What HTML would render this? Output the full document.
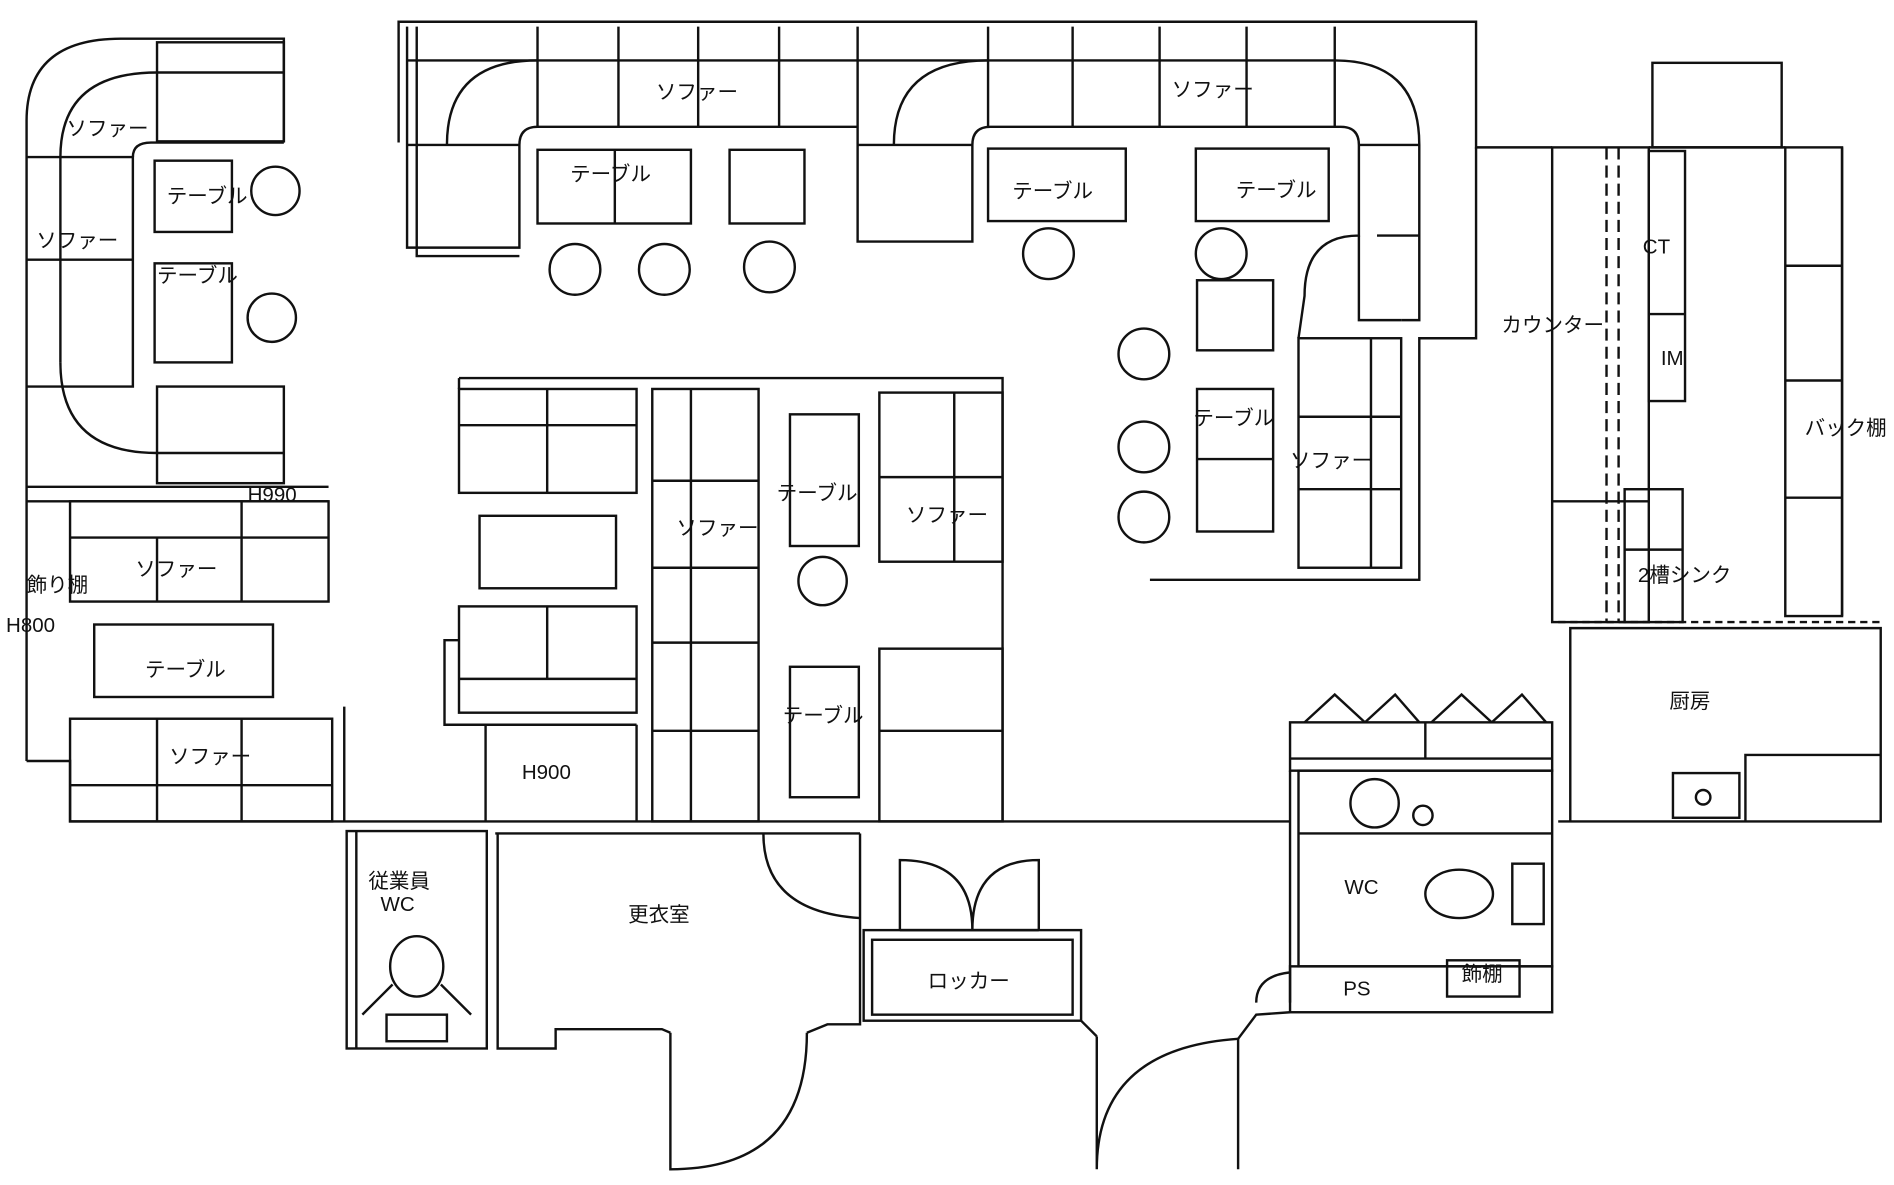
<!DOCTYPE html>
<html><head><meta charset="utf-8"><style>
html,body{margin:0;padding:0;background:#fff;}
svg{display:block}
text{font-family:"Liberation Sans","Noto Sans CJK JP",sans-serif;font-size:17px;fill:#111}
</style></head><body>
<svg width="1894" height="1185" viewBox="0 0 1568 981" xmlns="http://www.w3.org/2000/svg">
<rect width="1568" height="981" fill="#fff"/>
<g fill="none" stroke="#111" stroke-width="2">
<!-- outer walls -->
<path d="M22,630 L22,100 Q22,32 100,32 L235,32 L235,118"/>
<path d="M330,118 L330,18 L1222,18 L1222,122 L1285,122"/>
<path d="M1525,122 L1525,510"/>
<path d="M22,630 L58,630 L58,680 L1068,680"/>
<path d="M1290,680 L1557,680 L1557,520 L1300,520 L1300,680"/>
<!-- upper-left sofa -->
<rect x="130" y="35" width="105" height="82"/><line x1="130" y1="60" x2="235" y2="60"/>
<path d="M22,130 L110,130 L110,320 L22,320"/><line x1="22" y1="215" x2="110" y2="215"/><line x1="50" y1="130" x2="50" y2="300"/>
<path d="M50,300 Q50,375 130,375"/><path d="M110,130 Q110,118 125,118 L235,118"/>
<rect x="130" y="320" width="105" height="80"/><line x1="130" y1="375" x2="235" y2="375"/>
<path d="M50,130 Q50,60 130,60"/>
<rect x="128" y="133" width="64" height="59"/><rect x="128" y="218" width="64" height="82"/>
<circle cx="228" cy="158" r="20"/><circle cx="225" cy="263" r="20"/>
<line x1="22" y1="403" x2="272" y2="403"/><line x1="22" y1="415" x2="272" y2="415"/>
<rect x="58" y="415" width="214" height="83"/><line x1="130" y1="445" x2="130" y2="498"/><line x1="200" y1="415" x2="200" y2="498"/><line x1="58" y1="445" x2="272" y2="445"/>
<rect x="78" y="517" width="148" height="60"/>
<rect x="58" y="595" width="217" height="85"/><line x1="130" y1="595" x2="130" y2="680"/><line x1="200" y1="595" x2="200" y2="680"/><line x1="58" y1="650" x2="275" y2="650"/>
<line x1="285" y1="585" x2="285" y2="680"/>
<!-- top middle sofa -->
<path d="M337,22 L337,205 L430,205 L430,120 Q430,105 445,105 L710,105"/>
<path d="M345,22 L345,212 L430,212"/>
<line x1="445" y1="22" x2="445" y2="105"/><line x1="512" y1="22" x2="512" y2="105"/><line x1="578" y1="22" x2="578" y2="105"/><line x1="645" y1="22" x2="645" y2="105"/>
<line x1="337" y1="50" x2="710" y2="50"/><line x1="337" y1="120" x2="430" y2="120"/>
<path d="M370,120 Q370,50 445,50"/>
<rect x="445" y="124" width="127" height="61"/><line x1="509" y1="124" x2="509" y2="185"/>
<rect x="604" y="124" width="62" height="61"/>
<circle cx="476" cy="223" r="21"/><circle cx="550" cy="223" r="21"/><circle cx="637" cy="221" r="21"/>
<!-- top right sofa -->
<path d="M710,22 L710,200 L805,200 L805,120 Q805,105 820,105 L1110,105 Q1125,105 1125,120 L1125,195 Q1080,195 1080,245 L1075,280"/>
<line x1="818" y1="22" x2="818" y2="105"/><line x1="888" y1="22" x2="888" y2="105"/><line x1="960" y1="22" x2="960" y2="105"/><line x1="1032" y1="22" x2="1032" y2="105"/><line x1="1105" y1="22" x2="1105" y2="105"/>
<line x1="710" y1="50" x2="1105" y2="50"/><line x1="710" y1="120" x2="805" y2="120"/>
<path d="M740,120 Q740,50 818,50"/><path d="M1105,50 Q1175,50 1175,120 L1175,265 L1160,265"/>
<line x1="1125" y1="120" x2="1175" y2="120"/><line x1="1140" y1="195" x2="1175" y2="195"/>
<path d="M1125,195 L1125,265 L1160,265"/><path d="M1222,122 L1222,280 L1175,280 L1175,480 L952,480"/>
<rect x="1075" y="280" width="85" height="190"/><line x1="1135" y1="280" x2="1135" y2="470"/><line x1="1075" y1="345" x2="1160" y2="345"/><line x1="1075" y1="405" x2="1160" y2="405"/>
<rect x="818" y="123" width="114" height="60"/><rect x="990" y="123" width="110" height="60"/>
<circle cx="868" cy="210" r="21"/><circle cx="1011" cy="210" r="21"/>
<rect x="991" y="232" width="63" height="58"/>
<circle cx="947" cy="293" r="21"/><circle cx="947" cy="370" r="21"/><circle cx="947" cy="428" r="21"/>
<rect x="991" y="322" width="63" height="118"/><line x1="991" y1="380" x2="1054" y2="380"/>
<!-- center block -->
<path d="M380,313 L830,313 L830,680"/><line x1="380" y1="313" x2="380" y2="322"/>
<rect x="380" y="322" width="147" height="86"/><line x1="453" y1="322" x2="453" y2="408"/><line x1="380" y1="352" x2="527" y2="352"/>
<rect x="397" y="427" width="113" height="60"/>
<rect x="380" y="502" width="147" height="88"/><line x1="453" y1="502" x2="453" y2="562"/><line x1="380" y1="562" x2="527" y2="562"/>
<path d="M380,530 L368,530 L368,600 L527,600"/>
<line x1="402" y1="600" x2="402" y2="680"/><line x1="527" y1="600" x2="527" y2="680"/>
<rect x="540" y="322" width="88" height="358"/><line x1="572" y1="322" x2="572" y2="680"/>
<line x1="540" y1="398" x2="628" y2="398"/><line x1="540" y1="470" x2="628" y2="470"/><line x1="540" y1="532" x2="628" y2="532"/><line x1="540" y1="605" x2="628" y2="605"/>
<rect x="654" y="343" width="57" height="109"/><circle cx="681" cy="481" r="20"/>
<rect x="728" y="325" width="102" height="140"/><line x1="790" y1="325" x2="790" y2="465"/><line x1="728" y1="395" x2="830" y2="395"/>
<rect x="654" y="552" width="57" height="108"/>
<rect x="728" y="537" width="102" height="143"/><line x1="728" y1="605" x2="830" y2="605"/>
<!-- right counter -->
<rect x="1285" y="122" width="80" height="393"/>
<line x1="1330" y1="122" x2="1330" y2="515" stroke-dasharray="10,5"/><line x1="1340" y1="122" x2="1340" y2="515" stroke-dasharray="10,5"/>
<line x1="1285" y1="415" x2="1365" y2="415"/>
<rect x="1365" y="125" width="30" height="207"/><line x1="1365" y1="260" x2="1395" y2="260"/>
<rect x="1368" y="52" width="107" height="70"/><line x1="1365" y1="122" x2="1478" y2="122"/>
<rect x="1478" y="122" width="47" height="388"/><line x1="1478" y1="220" x2="1525" y2="220"/><line x1="1478" y1="315" x2="1525" y2="315"/><line x1="1478" y1="412" x2="1525" y2="412"/>
<rect x="1345" y="405" width="48" height="110"/><line x1="1345" y1="455" x2="1393" y2="455"/>
<line x1="1290" y1="515" x2="1557" y2="515" stroke-dasharray="6,4"/>
<rect x="1385" y="640" width="55" height="37"/><circle cx="1410" cy="660" r="6"/>
<path d="M1445,680 L1445,625 L1557,625"/>
<!-- WC right -->
<rect x="1068" y="598" width="217" height="40"/><line x1="1180" y1="598" x2="1180" y2="628"/><line x1="1068" y1="628" x2="1285" y2="628"/>
<path d="M1080,598 L1105,575 L1130,598 M1130,598 L1155,575 L1175,598 M1185,598 L1210,575 L1235,598 M1235,598 L1260,575 L1280,598"/>
<rect x="1075" y="638" width="210" height="162"/><line x1="1075" y1="690" x2="1285" y2="690"/>
<circle cx="1138" cy="665" r="20"/><circle cx="1178" cy="675" r="8"/>
<ellipse cx="1208" cy="740" rx="28" ry="20"/><rect x="1252" y="715" width="26" height="50"/>
<rect x="1068" y="800" width="217" height="38"/><rect x="1198" y="795" width="60" height="30"/>
<path d="M1068,638 L1068,830 M1040,830 Q1040,808 1068,805"/>
<!-- bottom rooms -->
<rect x="287" y="688" width="116" height="180"/><line x1="295" y1="688" x2="295" y2="868"/>
<ellipse cx="345" cy="800" rx="22" ry="25"/><rect x="320" y="840" width="50" height="22"/>
<path d="M300,840 L325,815 M390,840 L365,815"/>
<path d="M410,690 L712,690 M412,690 L412,868 L460,868 L460,852 L548,852 L555,855 M668,855 L685,848 L712,848 L712,690"/>
<path d="M632,690 Q632,755 712,760"/>
<rect x="715" y="770" width="180" height="75"/><rect x="722" y="778" width="166" height="62"/>
<path d="M745,770 L745,712 Q805,712 805,770 M860,770 L860,712 Q805,712 805,770"/>
<line x1="745" y1="770" x2="860" y2="770"/>
<path d="M555,855 L555,968 Q668,968 668,855"/>
<path d="M908,858 L908,968 Q908,868 1025,860 L1025,968"/>
<path d="M895,845 L908,858 M1025,860 L1040,840 L1068,838"/>
</g>
<text x="55" y="112">ソファー</text><text x="30" y="205">ソファー</text>
<text x="138" y="168">テーブル</text><text x="130" y="234">テーブル</text>
<text x="205" y="415">H990</text>
<text x="112" y="477">ソファー</text><text x="22" y="490">飾り棚</text><text x="5" y="523">H800</text>
<text x="120" y="560">テーブル</text><text x="140" y="632">ソファー</text>
<text x="543" y="82">ソファー</text><text x="970" y="80">ソファー</text>
<text x="472" y="150">テーブル</text><text x="838" y="164">テーブル</text><text x="1023" y="163">テーブル</text>
<text x="1243" y="275">カウンター</text><text x="1360" y="210">CT</text><text x="1375" y="302">IM</text>
<text x="1494" y="360">バック棚</text><text x="1356" y="482">2槽シンク</text>
<text x="988" y="352">テーブル</text><text x="1068" y="387">ソファー</text>
<text x="643" y="414">テーブル</text><text x="560" y="443">ソファー</text><text x="750" y="432">ソファー</text>
<text x="648" y="598">テーブル</text><text x="432" y="645">H900</text>
<text x="1382" y="586">厨房</text><text x="1113" y="740">WC</text>
<text x="1112" y="824">PS</text><text x="1210" y="812">飾棚</text>
<text x="305" y="735">従業員</text><text x="315" y="754">WC</text>
<text x="520" y="763">更衣室</text><text x="768" y="818">ロッカー</text>
</svg>
</body></html>
